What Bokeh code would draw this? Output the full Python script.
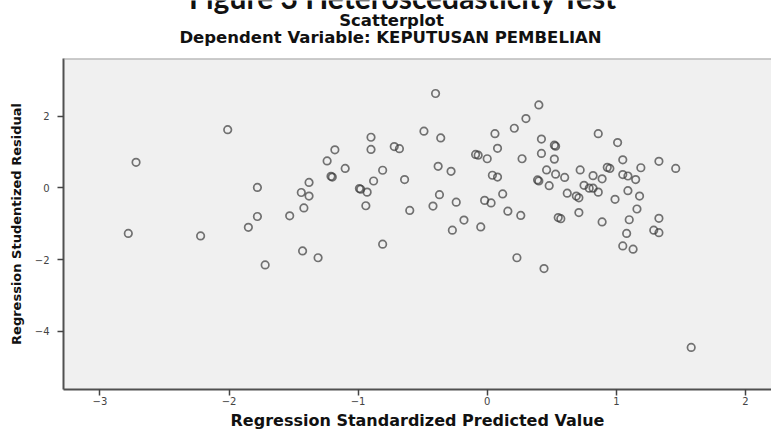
from bokeh.plotting import figure
from bokeh.models import Range1d, Span, FixedTicker
from bokeh.layouts import column
from bokeh.core.properties import value
from bokeh.embed import file_html
from bokeh.resources import INLINE

# Data
predicted = [
    -2.01, -2.72, -1.78, -1.38, -1.44, -1.38, -1.42, -1.78, -1.53, -1.85,
    -2.78, -2.22, -1.43, -1.72, -0.40, 0.40, 0.30, 0.21, 0.06, -0.49,
    -0.36, -0.90, 0.42, 0.08, -1.18, -0.90, -0.72, -0.68, -0.09, -0.07,
    0.00, 0.27, 0.42, -1.24, -1.10, -0.81, -0.38, -0.28, 0.46, -1.21,
    -1.20, -0.88, -0.64, 0.04, 0.08, 0.39, 0.40, 0.48, -0.99, -0.98,
    -0.93, -0.94, -0.37, 0.12, -0.24, -0.42, -0.60, -0.02, 0.03, 0.16,
    0.26, -0.18, -0.27, -0.05, -0.81, -1.31, 0.23, 0.44, 0.86, 1.01,
    0.52, 0.53, 0.52, 1.05, 1.33, 1.46, 1.19, 0.93, 0.95, 0.72,
    0.53, 0.60, 0.82, 0.89, 1.05, 1.09, 1.15, 0.75, 0.79, 0.82,
    0.86, 0.62, 0.69, 0.71, 0.99, 1.09, 1.18, 1.16, 0.71, 0.55,
    0.57, 0.89, 1.10, 1.33, 1.08, 1.29, 1.33, 1.05, 1.13, 1.58,
]
residual = [
    1.62, 0.71, 0.01, 0.15, -0.13, -0.23, -0.56, -0.80, -0.78, -1.10,
    -1.27, -1.34, -1.76, -2.15, 2.63, 2.31, 1.93, 1.66, 1.51, 1.58,
    1.39, 1.41, 1.36, 1.10, 1.06, 1.07, 1.15, 1.09, 0.93, 0.91,
    0.81, 0.81, 0.96, 0.75, 0.54, 0.49, 0.60, 0.46, 0.50, 0.32,
    0.30, 0.19, 0.23, 0.35, 0.30, 0.22, 0.19, 0.06, -0.02, -0.04,
    -0.12, -0.50, -0.19, -0.17, -0.40, -0.51, -0.63, -0.35, -0.42, -0.65,
    -0.77, -0.90, -1.18, -1.09, -1.57, -1.95, -1.95, -2.25, 1.51, 1.26,
    1.19, 1.16, 0.80, 0.78, 0.74, 0.54, 0.56, 0.57, 0.54, 0.50,
    0.38, 0.29, 0.34, 0.25, 0.37, 0.33, 0.23, 0.07, -0.01, -0.01,
    -0.12, -0.15, -0.23, -0.28, -0.32, -0.08, -0.23, -0.59, -0.69, -0.83,
    -0.86, -0.95, -0.89, -0.85, -1.27, -1.18, -1.25, -1.62, -1.71, -4.45,
]
x_ticks = [-3, -2, -1, 0, 1, 2]
y_ticks = [-4, -2, 0, 2]

fig_title = "Figure 3 Heteroscedasticity Test"
chart_title = "Scatterplot"
subtitle = "Dependent Variable: KEPUTUSAN PEMBELIAN"
x_label = "Regression Standardized Predicted Value"
y_label = "Regression Studentized Residual"

W = 771
HEAD_H = 56
MAIN_H = 432 - HEAD_H
FRAME_LEFT = 63

# ---- header with the titles (frame is aligned with the plot frame below)
head = figure(width=W, height=HEAD_H, output_backend="svg", toolbar_location=None,
              x_range=Range1d(FRAME_LEFT, W), y_range=Range1d(HEAD_H, 0),
              x_axis_type=None, y_axis_type=None,
              min_border=0, min_border_left=0, min_border_right=0,
              min_border_top=0, min_border_bottom=0)
head.outline_line_color = None
head.grid.visible = False
head.background_fill_color = "white"
head.border_fill_color = "white"

def head_text(txt, x, y, size, font):
    head.text(x=[x], y=[y], text=[txt], text_font=value(font), text_font_size=size,
              text_font_style="bold", text_align="center", text_baseline="alphabetic",
              text_color="#111111")

# the figure caption is cropped at the top edge, as in the reference
head_text(fig_title, 403, -4, "30px", "Lato")
head_text(chart_title, 391, 20, "16.5px", "DejaVu Sans")
head_text(subtitle, 390, 37, "16.5px", "DejaVu Sans")

# ---- main scatter plot
y_top, y_bot = 3.605, -5.622
p = figure(width=W, height=MAIN_H, output_backend="svg", toolbar_location=None,
           x_range=Range1d(-3.282, 2.202), y_range=Range1d(y_bot, y_top),
           min_border_left=FRAME_LEFT, min_border_right=0, min_border_top=2,
           min_border_bottom=40)
p.background_fill_color = "#f0f0f0"
p.border_fill_color = "white"
p.outline_line_color = None
p.grid.visible = False

for ax, ticks in ((p.xaxis, x_ticks), (p.yaxis, y_ticks)):
    ax.ticker = FixedTicker(ticks=ticks)
    ax.axis_line_color = "#505050"
    ax.axis_line_width = 2
    ax.major_tick_line_color = "#444444"
    ax.major_tick_line_width = 1.5
    ax.major_tick_out = 6
    ax.major_tick_in = 0
    ax.minor_tick_line_color = None
    ax.major_label_text_font = "DejaVu Sans"
    ax.major_label_text_font_size = "10px"
    ax.major_label_text_color = "#444444"
    ax.axis_label_text_font = "DejaVu Sans"
    ax.axis_label_text_font_style = "bold"
    ax.axis_label_text_color = "#111111"
p.xaxis.major_label_standoff = 1
p.yaxis.major_label_standoff = 8
p.xaxis.axis_label = x_label
p.xaxis.axis_label_text_font_size = "16px"
p.xaxis.axis_label_standoff = 3
p.yaxis.axis_label = y_label
p.yaxis.axis_label_text_font_size = "13px"
p.yaxis.axis_label_standoff = 8

p.add_layout(Span(location=y_top, dimension="width", line_color="#a0a0a0", line_width=2))

p.scatter(predicted, residual, marker="circle", size=7.5, fill_color=None,
          line_color="#3a3a3a", line_alpha=0.7, line_width=1.7)

layout = column(head, p, spacing=0)
open("out.html", "w").write(file_html(layout, INLINE))
